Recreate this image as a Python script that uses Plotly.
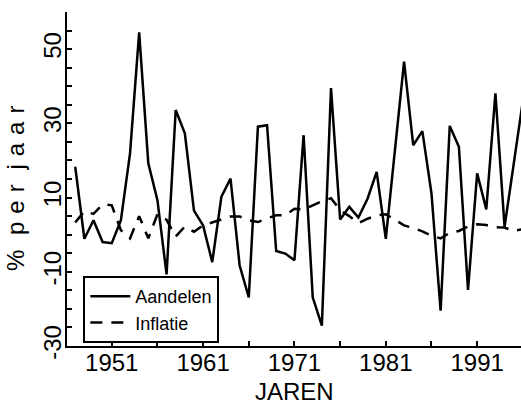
import plotly.graph_objects as go

years = list(range(1947, 1997))
aandelen = [18.3, -1.1, 3.9, -2.0, -2.3, 3.9, 21.9, 54.5, 19.2, 9.3,
            -10.7, 33.6, 27.3, 6.5, 2.5, -7.4, 10.2, 15.1, -8.3, -16.9,
            29.1, 29.5, -4.4, -5.1, -6.9, 26.8, -16.9, -24.5, 39.5, 4.1,
            7.5, 4.6, 9.7, 16.9, -1.1, 22.5, 46.6, 24.1, 27.9, 11.1,
            -20.5, 29.3, 23.7, -14.9, 16.5, 6.8, 38.1, 2.1, 19.0, 36.0]
inflatie = [3.3, 6.3, 5.6, 8.2, 7.9, 1.2, -1.0, 5.0, -1.0, 5.5,
            4.0, -0.5, 2.2, 0.8, 2.5, 3.2, 4.1, 4.9, 4.9, 3.9,
            3.4, 4.4, 5.2, 5.2, 7.0, 6.8, 8.0, 9.0, 9.8, 6.6,
            5.0, 3.1, 4.3, 5.2, 5.5, 4.0, 2.5, 1.8, 0.9, -0.3,
            -1.0, 0.5, 1.0, 2.2, 2.8, 2.6, 2.0, 1.9, 1.0, 1.5]
y_ticks = [-30, -10, 10, 30, 50]
y_ticktext = ["-30", "-10", "10", "30", "50"]
x_ticks = [1951, 1961, 1971, 1981, 1991]

font_main = "Liberation Sans, Arial, sans-serif"

fig = go.Figure()
fig.add_trace(go.Scatter(x=years, y=aandelen, mode="lines", name="Aandelen",
                         line=dict(color="black", width=2.5)))
fig.add_trace(go.Scatter(x=years, y=inflatie, mode="lines", name="Inflatie",
                         line=dict(color="black", width=2.5, dash="12px,9px")))

fig.update_layout(
    width=521, height=407,
    margin=dict(l=67, r=0, t=12, b=61),
    paper_bgcolor="white", plot_bgcolor="white",
    font=dict(family=font_main, color="black", size=24),
    showlegend=True,
    legend=dict(x=0.036, y=(346 - 343) / 334, xanchor="left", yanchor="bottom",
                bgcolor="white", bordercolor="black", borderwidth=2,
                font=dict(size=18, family=font_main, color="black"),
                tracegroupgap=0, itemwidth=40),
    xaxis=dict(range=[1946.1, 1995.8], showgrid=False, zeroline=False,
               showline=True, linecolor="black", linewidth=2,
               tickmode="array", tickvals=x_ticks,
               ticks="inside", ticklen=5, tickwidth=1.5, tickcolor="black",
               ticklabelstandoff=-6,
               minor=dict(dtick=5, tick0=1946, ticks="inside", ticklen=5,
                          tickwidth=1.5, tickcolor="black"),
               tickfont=dict(size=24)),
    yaxis=dict(range=[-30, 60], showgrid=False, zeroline=False,
               showline=True, linecolor="black", linewidth=2,
               tickmode="array", tickvals=y_ticks, ticktext=y_ticktext,
               tickangle=-90, ticklabelstandoff=-6,
               ticks="inside", ticklen=5, tickwidth=1.5, tickcolor="black",
               minor=dict(dtick=5, tick0=0, ticks="inside", ticklen=5,
                          tickwidth=1.5, tickcolor="black"),
               tickfont=dict(size=24)),
)

fig.add_annotation(text="JAREN", xref="paper", yref="paper",
                   x=0.5, y=(346 - 407) / 334, xanchor="center", yanchor="bottom",
                   showarrow=False, font=dict(size=24, family=font_main))
fig.add_annotation(text="%\u2004 p\u2004e\u2004r\u2004 j\u2004a\u2004a\u2004r",
                   xref="paper", yref="paper",
                   x=(15 - 67) / 454, y=(346 - 189) / 334,
                   xanchor="center", yanchor="middle", textangle=-90,
                   showarrow=False, font=dict(size=24, family=font_main))

fig.write_html("out.html")
